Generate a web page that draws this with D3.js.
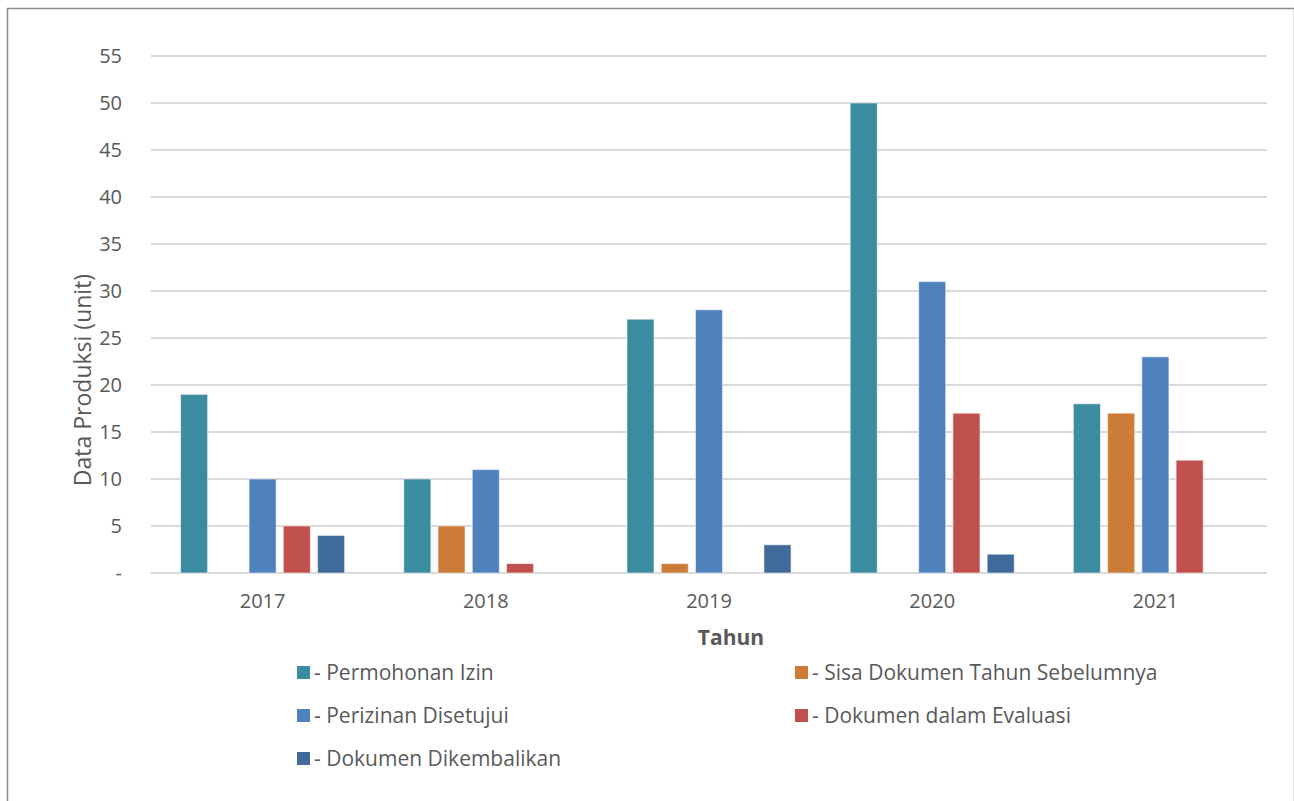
<!DOCTYPE html>
<html>
<head>
<meta charset="utf-8">
<script src="https://cdn.jsdelivr.net/npm/d3@7"></script>
<style>
  html, body { margin: 0; padding: 0; background: #fff; }
  svg { display: block; font-family: "Open Sans", "Noto Sans", sans-serif; }
</style>
</head>
<body>
<svg id="chart" width="1294" height="801"></svg>
<script>
const years = ["2017", "2018", "2019", "2020", "2021"];
const seriesNames = [
  "Permohonan Izin",
  "Sisa Dokumen Tahun Sebelumnya",
  "Perizinan Disetujui",
  "Dokumen dalam Evaluasi",
  "Dokumen Dikembalikan"
];
const permohonanIzin      = [19, 10, 27, 50, 18];
const sisaDokumen         = [0, 5, 1, 0, 17];
const perizinanDisetujui  = [10, 11, 28, 31, 23];
const dokumenEvaluasi     = [5, 1, 0, 17, 12];
const dokumenDikembalikan = [4, 0, 3, 2, 0];
const seriesColors = ["#3B8BA1", "#CD7B38", "#4F81BD", "#C0504D", "#3F6A9A"];
const yTicks = [0, 5, 10, 15, 20, 25, 30, 35, 40, 45, 50, 55];

const seriesValues = [permohonanIzin, sisaDokumen, perizinanDisetujui, dokumenEvaluasi, dokumenDikembalikan];

const svg = d3.select("#chart");
const W = 1294, H = 801;
const textColor = "#595959";

// outer chart frame
svg.append("rect")
  .attr("x", 7.5).attr("y", 8.5)
  .attr("width", W - 7).attr("height", H)
  .attr("fill", "#fff").attr("stroke", "#8c8c8c").attr("stroke-width", 1.5);

const plot = { left: 151, right: 1267, top: 56, bottom: 573 };

const x0 = d3.scaleBand().domain(years).range([plot.left, plot.right]).paddingInner(0.265).paddingOuter(0.1325);
const x1 = d3.scaleBand().domain(seriesNames).range([0, x0.bandwidth()]).paddingInner(0.21);
const y = d3.scaleLinear().domain([0, 55]).range([plot.bottom, plot.top]);

// gridlines
svg.append("g").selectAll("line").data(yTicks).join("line")
  .attr("x1", plot.left).attr("x2", plot.right)
  .attr("y1", d => y(d)).attr("y2", d => y(d))
  .attr("stroke", "#d9d9d9").attr("stroke-width", 2);

// y axis labels
const yAxis = d3.axisLeft(y).tickValues(yTicks).tickSize(0).tickPadding(0)
  .tickFormat(d => d === 0 ? "-" : d);
const gy = svg.append("g").attr("transform", `translate(122,0)`).call(yAxis);
gy.select(".domain").remove();
gy.selectAll("text").attr("fill", textColor).style("font-size", "20px")
  .style("font-family", "'Open Sans', sans-serif");

// x axis labels
const xAxis = d3.axisBottom(x0).tickSize(0).tickPadding(0);
const gx = svg.append("g").attr("transform", `translate(0,${plot.bottom + 21})`).call(xAxis);
gx.select(".domain").remove();
gx.selectAll("text").attr("fill", textColor).style("font-size", "20px")
  .style("font-family", "'Open Sans', sans-serif");

// bars
const groups = svg.append("g").selectAll("g").data(years).join("g")
  .attr("transform", d => `translate(${x0(d)},0)`);
groups.selectAll("rect")
  .data((yr, i) => seriesNames.map((s, k) => ({ s, k, v: seriesValues[k][i] })).filter(d => d.v > 0))
  .join("rect")
  .attr("x", d => x1(d.s))
  .attr("width", x1.bandwidth())
  .attr("y", d => y(d.v))
  .attr("height", d => y(0) - y(d.v))
  .attr("fill", d => seriesColors[d.k])
  .attr("stroke", "#ffffff").attr("stroke-opacity", 0.55).attr("stroke-width", 1);

// axis titles
svg.append("text")
  .attr("transform", `translate(91,380) rotate(-90)`)
  .attr("text-anchor", "middle").attr("fill", textColor)
  .style("font-size", "23px").text("Data Produksi (unit)");

svg.append("text")
  .attr("x", 731).attr("y", 645)
  .attr("text-anchor", "middle").attr("fill", textColor)
  .style("font-size", "21px").style("font-weight", "bold").text("Tahun");

// legend
const legendPos = [
  { x: 297, y: 673 }, { x: 795, y: 673 },
  { x: 297, y: 716 }, { x: 795, y: 716 },
  { x: 297, y: 759 }
];
const lg = svg.append("g").selectAll("g").data(seriesNames).join("g")
  .attr("transform", (d, i) => `translate(${legendPos[i].x},${legendPos[i].y})`);
lg.append("rect").attr("x", 0).attr("y", -7).attr("width", 13).attr("height", 13)
  .attr("fill", (d, i) => seriesColors[i]);
lg.append("text").attr("x", 17).attr("y", 0).attr("dy", "0.35em")
  .attr("fill", textColor).style("font-size", "21px")
  .text(d => "- " + d);
</script>
</body>
</html>
